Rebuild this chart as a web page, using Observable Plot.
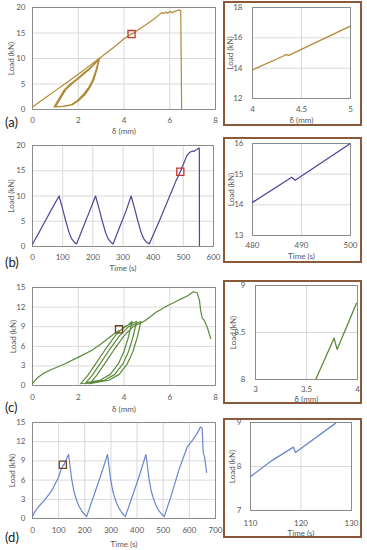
<!DOCTYPE html>
<html><head><meta charset="utf-8">
<script src="https://cdn.jsdelivr.net/npm/d3@7"></script>
<script src="https://cdn.jsdelivr.net/npm/@observablehq/plot@0.6"></script>
<style>
body{margin:0;background:#fff;}
#fig{position:relative;width:367px;height:550px;overflow:hidden;font-family:Lato,"Open Sans",sans-serif;}
.p{position:absolute;}
.box{position:absolute;border:2px solid #8A5A3B;box-sizing:border-box;pointer-events:none;}
.lab{position:absolute;font-size:13px;color:#222;line-height:16px;}
</style></head><body><div id="fig"></div><script>
// ---------- (a) displacement vs load ----------
const aDelta = [0,0.5,1.0,1.5,2.0,2.5,2.91,
  2.78,2.62,2.45,2.25,1.95,1.67,1.3,0.94, 1.1,1.38,1.65,1.97,2.22,2.47,2.7,2.92,
  2.8,2.65,2.48,2.28,1.98,1.7,1.33,0.97, 1.13,1.41,1.68,2.0,2.25,2.5,2.72,2.93,
  2.82,2.68,2.51,2.31,2.01,1.73,1.36,1.0, 1.16,1.44,1.71,2.03,2.28,2.52,2.74,2.95,
  3.5,4.0,4.32,4.34,4.37,5.0,5.3,5.6,5.68,5.74,5.82,5.92,6.02,6.12,6.25,6.38,6.48,6.52];
const aLoad = [0.5,2.1,3.7,5.3,6.9,8.6,10.0,
  7.8,5.7,4.3,3.1,1.7,0.9,0.6,0.5, 1.7,3.8,5.0,6.1,7.1,8.0,9.0,10.0,
  7.9,5.8,4.3,3.0,1.7,0.9,0.6,0.5, 1.7,3.8,5.0,6.1,7.1,8.0,9.0,10.0,
  7.9,5.8,4.3,3.0,1.7,0.9,0.6,0.5, 1.7,3.8,5.0,6.1,7.1,8.0,9.0,10.1,
  12.0,13.88,14.82,14.9,14.84,16.78,17.7,18.8,19.0,18.8,19.1,18.9,19.2,19.0,19.3,19.5,19.45,0];
const aInDelta = [4.0,4.32,4.34,4.37,5.0];
const aInLoad = [13.88,14.82,14.9,14.84,16.78];
const aMark = {x: 4.33, y: 14.8};

// ---------- (b) time vs load ----------
const bTime = [0,20,40,60,88, 100,110,121,130,138,146, 170,190,209, 221,231,242,251,259,267,
  290,310,327, 339,349,360,369,377,387, 420,450,475,490,500,511,520,527,532,536,540,546,551,553,553.5];
const bLoad = [0.5,2.6,4.8,7.0,10.0, 7.4,5.1,2.8,1.5,0.9,0.5, 4.1,7.1,10.0, 7.4,5.1,2.8,1.5,0.9,0.5,
  4.0,7.0,10.0, 7.4,5.1,2.8,1.5,0.9,0.5, 5.0,9.3,12.9,14.8,16.3,17.9,18.6,18.8,18.9,18.85,19.1,19.2,19.5,19.4,0];
const bInTime = [480,488,488.7,500];
const bInLoad = [14.08,14.9,14.8,16.0];
const bMark = {x: 490, y: 14.8};

// ---------- (c) displacement vs load ----------
const cDelta = [0,0.1,0.22,0.5,0.8,1.4,2.1,2.6,2.98,3.3,3.6,3.77,3.8,4.0,4.2,4.35,
  4.2,4.0,3.75,3.4,2.95,2.11, 2.41,2.76,3.16,3.61,4.01,4.55,
  4.4,4.2,3.95,3.6,3.15,2.3, 2.6,2.95,3.35,3.8,4.2,4.74,
  4.59,4.39,4.14,3.79,3.34,2.5, 2.8,3.15,3.55,4.0,4.4,4.92,
  5.4,5.9,6.4,6.77,7.03,7.2,7.3,7.35,7.42,7.5,7.57,7.65,7.79];
const cLoad = [0.3,0.7,1.2,1.9,2.4,3.3,4.5,5.4,6.3,7.2,8.0,8.44,8.32,8.82,9.3,9.8,
  7.5,5.2,3.3,1.7,0.8,0.3, 1.5,3.3,5.4,7.6,9.0,9.8,
  7.5,5.2,3.3,1.7,0.8,0.3, 1.5,3.3,5.4,7.6,9.0,9.8,
  7.5,5.2,3.3,1.7,0.8,0.3, 1.5,3.3,5.4,7.6,9.0,9.9,
  11.2,12.2,13.1,13.7,14.35,14.2,13.0,11.5,10.3,10.0,9.5,8.8,7.2];
const cInDelta = [3.59,3.77,3.8,3.99];
const cInLoad = [8.0,8.44,8.32,8.81];
const cMark = {x: 3.78, y: 8.6};

// ---------- (d) time vs load ----------
const dTime = [0,8,22,47,73,98,110,118,119,127,133,138, 149,158,169,178,188,198,207, 230,260,287,
  298,307,318,327,337,346,355, 378,408,434, 445,454,465,474,484,494,504,
  530,560,591,615,630,642,649,651,653,656,658,662,666];
const dLoad = [0.3,1.0,1.8,2.9,4.3,6.3,7.7,8.4,8.3,9.0,9.6,10.0, 6.4,4.3,2.8,1.9,1.2,0.7,0.3, 3.0,6.6,10.0,
  6.4,4.3,2.8,1.9,1.2,0.7,0.3, 3.0,6.6,10.0, 6.4,4.3,2.8,1.9,1.2,0.7,0.3,
  3.5,7.6,11.1,12.4,13.3,14.3,14.1,12.0,10.3,9.9,9.6,8.5,7.2];
const dInTime = [110,114.3,118.5,118.9,126.8];
const dInLoad = [7.77,8.14,8.44,8.32,8.98];
const dMark = {x: 116, y: 8.4};

// ---------- ticks ----------
const ticksDelta = [0,2,4,6,8];
const ticksLoad20 = [0,5,10,15,20];
const ticksLoad15 = [0,3,6,9,12,15];
const ticksTimeB = [0,100,200,300,400,500,600];
const ticksTimeD = [0,100,200,300,400,500,600,700];

const colA = "#B08A38", colB = "#55429A", colC = "#5B8A3A", colD = "#6B86CC";
const red = "#C0392B", brown = "#6B4420";

const zip = (xs, ys) => xs.map((x, i) => ({x, y: ys[i]}));
const fig = document.getElementById("fig");
const fmt = d => String(d);

function panel(o) {
  const marks = [
    Plot.gridX(o.xTicks, {stroke: "#d9d9d9", strokeOpacity: 1}),
    Plot.gridY(o.yTicks, {stroke: "#d9d9d9", strokeOpacity: 1}),
    Plot.frame({stroke: "#8c8c8c"}),
    Plot.line(o.pts, {x: "x", y: "y", stroke: o.color, strokeWidth: o.sw || 1.2, clip: true}),
    Plot.axisX(o.xTicks, {tickSize: 0, tickPadding: o.padX, tickFormat: fmt, label: o.xLabel, labelAnchor: "center", labelOffset: o.lx, labelArrow: false, fill: "#595959"}),
    Plot.axisY(o.yTicks, {tickSize: 0, tickPadding: o.padY, tickFormat: fmt, label: "Load (kN)", labelAnchor: "center", labelOffset: o.ly, labelArrow: false, fill: "#595959"})
  ];
  if (o.marker) marks.push(Plot.dot([o.marker], {x: "x", y: "y", symbol: "square", r: 4, stroke: o.markerColor, strokeWidth: 1.3, fill: "none"}));
  const svg = Plot.plot({
    width: o.w, height: o.h,
    marginLeft: o.m[0], marginRight: o.m[1], marginTop: o.m[2], marginBottom: o.m[3],
    style: {fontFamily: "Lato, 'Open Sans', sans-serif", fontSize: (o.fs || 8) + "px", background: "transparent", overflow: "visible"},
    x: {domain: o.xDomain},
    y: {domain: o.yDomain},
    marks
  });
  svg.classList.add("p");
  svg.style.left = o.left + "px";
  svg.style.top = o.top + "px";
  fig.appendChild(svg);
}
function box(left, top, w, h) {
  const d = document.createElement("div");
  d.className = "box";
  Object.assign(d.style, {left: left + "px", top: top + "px", width: w + "px", height: h + "px"});
  fig.appendChild(d);
}
function label(t, left, top) {
  const d = document.createElement("div");
  d.className = "lab"; d.textContent = t;
  Object.assign(d.style, {left: left + "px", top: top + "px"});
  fig.appendChild(d);
}

// Row (a)
panel({pts: zip(aDelta, aLoad), color: colA, xDomain: [0,8], yDomain: [0,20], xTicks: ticksDelta, yTicks: ticksLoad20,
  xLabel: "δ (mm)", left: 0, top: 0, w: 222, h: 135, m: [32,7,7,26], padX: 8, padY: 7, lx: 24, ly: 24, marker: aMark, markerColor: red});
panel({pts: zip(aInDelta, aInLoad), color: colA, xDomain: [4,5], yDomain: [12,18], xTicks: [4,4.5,5], yTicks: [12,14,16,18],
  xLabel: "δ (mm)", left: 225, top: 3, w: 135, h: 121, m: [27,10,4,26], padX: 8, padY: 10, lx: 24, ly: 25, sw: 1.3});
box(223, 1, 139, 125);
label("(a)", 5, 114);

// Row (b)
panel({pts: zip(bTime, bLoad), color: colB, xDomain: [0,600], yDomain: [0,20], xTicks: ticksTimeB, yTicks: ticksLoad20,
  xLabel: "Time (s)", left: 0, top: 135, w: 222, h: 135, m: [32,9,10,24], padX: 8, padY: 7, lx: 24, ly: 24, marker: bMark, markerColor: red});
panel({pts: zip(bInTime, bInLoad), color: colB, xDomain: [480,500], yDomain: [13,16], xTicks: [480,490,500], yTicks: [13,14,15,16],
  xLabel: "Time (s)", left: 225, top: 139, w: 135, h: 122, m: [27,10,4,26], padX: 7, padY: 9, lx: 23, ly: 24, sw: 1.3});
box(223, 137, 139, 126);
label("(b)", 5, 254);

// Row (c)
panel({pts: zip(cDelta, cLoad), color: colC, xDomain: [0,8], yDomain: [0,15], xTicks: ticksDelta, yTicks: ticksLoad15,
  xLabel: "δ (mm)", left: 0, top: 275, w: 222, h: 137, m: [32,7,12,27], padX: 9, padY: 7, lx: 26, ly: 22, marker: cMark, markerColor: brown});
panel({pts: zip(cInDelta, cInLoad), color: colC, xDomain: [3,4], yDomain: [8,9], xTicks: [3,3.5,4], yTicks: [8,8.5,9],
  xLabel: "δ (mm)", left: 225, top: 282, w: 135, h: 120, m: [30,3,3,23], padX: 7, padY: 10, lx: 22, ly: 25, sw: 1.3});
box(223, 280, 139, 124);
label("(c)", 5, 399);

// Row (d)
panel({pts: zip(dTime, dLoad), color: colD, xDomain: [0,700], yDomain: [0,15], xTicks: ticksTimeD, yTicks: ticksLoad15,
  xLabel: "Time (s)", left: 0, top: 412, w: 222, h: 138, m: [32,7,10,32], padX: 9, padY: 7, lx: 28, ly: 23, marker: dMark, markerColor: brown});
panel({pts: zip(dInTime, dInLoad), color: colD, xDomain: [110,130], yDomain: [7,9], xTicks: [110,120,130], yTicks: [7,8,9],
  xLabel: "Time (s)", left: 225, top: 420, w: 135, h: 116, m: [25,9,2,26], padX: 10, padY: 9, lx: 25, ly: 21, sw: 1.3});
box(223, 418, 139, 120);
label("(d)", 5, 529);
</script></body></html>
